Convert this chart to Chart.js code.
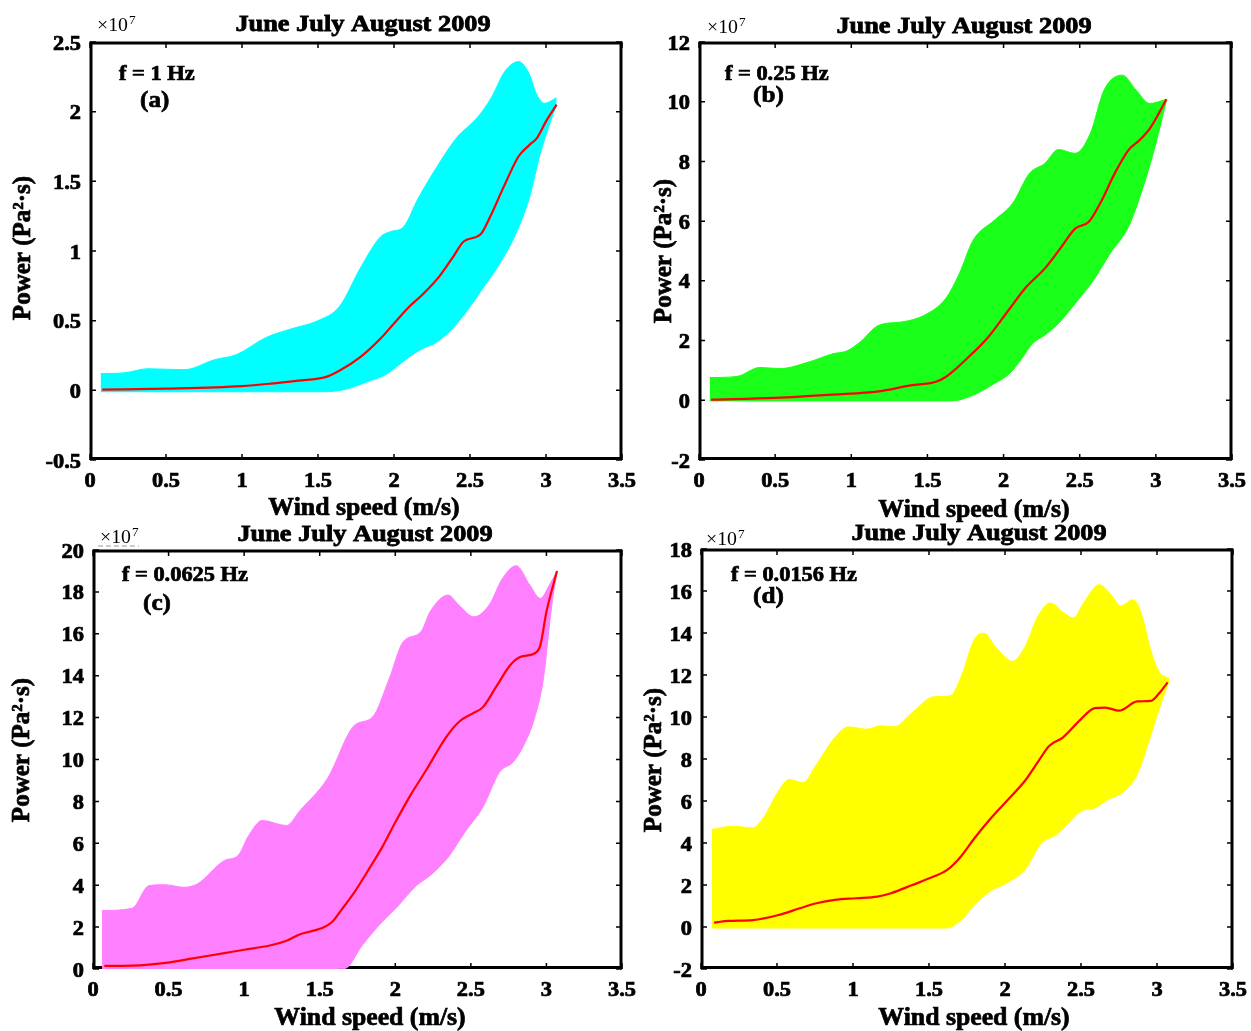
<!DOCTYPE html>
<html>
<head>
<meta charset="utf-8">
<script src="https://cdn.jsdelivr.net/npm/chart.js@4.4.1/dist/chart.umd.min.js"></script>
<style>
  body { margin: 0; background: #fff; }
  #wrap { position: relative; width: 1251px; height: 1031px; overflow: hidden; background: #fff; }
  canvas { position: absolute; }
</style>
</head>
<body>
<div id="wrap">
  <canvas id="chartA" width="660" height="525" style="left:0px;top:0px"></canvas>
  <canvas id="chartB" width="621" height="525" style="left:630px;top:0px"></canvas>
  <canvas id="chartC" width="660" height="519" style="left:0px;top:512px"></canvas>
  <canvas id="chartD" width="621" height="519" style="left:630px;top:512px"></canvas>
</div>
<script>
// values are in units of 1e7 Pa^2*s, x in m/s

// (a) f = 1 Hz
const aMeanX = [0.08, 0.5, 1.0, 1.19, 1.37, 1.55, 1.64, 1.78, 1.91, 2.0, 2.1, 2.19, 2.3, 2.39, 2.46, 2.57, 2.63, 2.73, 2.82, 2.89, 2.94, 3.0, 3.07];
const aMeanY = [0.005, 0.012, 0.03, 0.048, 0.07, 0.095, 0.14, 0.24, 0.37, 0.48, 0.6, 0.69, 0.82, 0.96, 1.07, 1.12, 1.24, 1.48, 1.68, 1.76, 1.81, 1.93, 2.05];
const aUpX = [0.07, 0.23, 0.38, 0.62, 0.82, 0.96, 1.16, 1.32, 1.5, 1.64, 1.78, 1.91, 1.98, 2.06, 2.16, 2.28, 2.41, 2.55, 2.64, 2.73, 2.82, 2.89, 2.94, 2.99, 3.07];
const aUpY = [0.12, 0.126, 0.155, 0.148, 0.22, 0.255, 0.38, 0.44, 0.5, 0.6, 0.88, 1.1, 1.14, 1.17, 1.38, 1.6, 1.81, 1.96, 2.1, 2.29, 2.36, 2.27, 2.12, 2.06, 2.1];
const aLowX = [0.07, 0.5, 1.0, 1.55, 1.69, 1.82, 1.94, 2.0, 2.1, 2.19, 2.28, 2.39, 2.48, 2.57, 2.69, 2.8, 2.89, 2.96, 3.03, 3.07];
const aLowY = [-0.01, -0.01, -0.01, -0.01, 0.01, 0.06, 0.11, 0.155, 0.24, 0.3, 0.345, 0.45, 0.57, 0.71, 0.9, 1.12, 1.38, 1.69, 1.93, 2.05];

// (b) f = 0.25 Hz
const bMeanX = [0.08, 0.5, 0.88, 1.18, 1.39, 1.55, 1.62, 1.76, 1.9, 2.03, 2.15, 2.27, 2.38, 2.47, 2.56, 2.64, 2.73, 2.82, 2.89, 2.96, 3.07];
const bMeanY = [0.02, 0.08, 0.19, 0.3, 0.5, 0.61, 0.78, 1.4, 2.12, 3.0, 3.8, 4.41, 5.14, 5.75, 5.98, 6.65, 7.6, 8.38, 8.7, 9.1, 10.08];
const bUpX = [0.07, 0.25, 0.4, 0.53, 0.72, 0.88, 0.97, 1.06, 1.18, 1.34, 1.48, 1.62, 1.71, 1.8, 1.94, 2.06, 2.17, 2.27, 2.36, 2.47, 2.57, 2.66, 2.78, 2.87, 2.96, 3.07];
const bUpY = [0.76, 0.8, 1.1, 1.06, 1.28, 1.56, 1.65, 1.96, 2.51, 2.63, 2.85, 3.41, 4.25, 5.36, 6.03, 6.6, 7.6, 7.93, 8.4, 8.27, 8.94, 10.39, 10.89, 10.39, 9.94, 10.08];
const bLowX = [0.07, 0.8, 1.66, 1.8, 1.94, 2.04, 2.12, 2.19, 2.27, 2.36, 2.47, 2.59, 2.7, 2.82, 2.91, 3.0, 3.07];
const bLowY = [-0.02, -0.02, -0.02, 0.17, 0.56, 0.9, 1.4, 1.9, 2.18, 2.57, 3.24, 4.02, 4.92, 5.81, 7.04, 8.6, 10.05];

// (c) f = 0.0625 Hz
const cMeanX = [0.075, 0.26, 0.51, 0.64, 0.87, 1.0, 1.17, 1.28, 1.37, 1.51, 1.58, 1.64, 1.73, 1.82, 1.92, 2.0, 2.1, 2.21, 2.33, 2.42, 2.51, 2.58, 2.67, 2.76, 2.83, 2.92, 2.96, 3.0, 3.07];
const cMeanY = [0.15, 0.16, 0.32, 0.48, 0.76, 0.92, 1.12, 1.35, 1.66, 1.94, 2.23, 2.79, 3.67, 4.7, 5.9, 7.0, 8.29, 9.56, 11.0, 11.79, 12.19, 12.5, 13.5, 14.5, 14.9, 15.06, 15.46, 17.05, 19.0];
const cUpX = [0.06, 0.26, 0.37, 0.48, 0.6, 0.69, 0.87, 0.96, 1.03, 1.12, 1.28, 1.37, 1.55, 1.73, 1.85, 1.96, 2.05, 2.17, 2.23, 2.35, 2.42, 2.52, 2.62, 2.71, 2.8, 2.89, 2.96, 3.02, 3.07];
const cUpY = [2.79, 2.9, 3.98, 4.02, 3.9, 4.06, 5.18, 5.42, 6.37, 7.09, 6.85, 7.57, 9.08, 11.63, 12.03, 13.86, 15.6, 16.1, 17.05, 17.85, 17.37, 16.81, 17.37, 18.65, 19.25, 18.33, 17.69, 18.33, 19.0];
const cLowX = [0.06, 1.0, 1.62, 1.67, 1.78, 1.89, 2.0, 2.14, 2.23, 2.35, 2.46, 2.58, 2.69, 2.78, 2.85, 2.92, 2.98, 3.03, 3.07];
const cLowY = [0, 0, 0, 0.03, 1.12, 2.07, 2.87, 3.98, 4.46, 5.34, 6.53, 7.73, 9.4, 9.88, 10.68, 11.95, 13.86, 17.05, 19.0];

// (d) f = 0.0156 Hz
const dMeanX = [0.086, 0.18, 0.34, 0.51, 0.65, 0.76, 0.88, 1.02, 1.16, 1.25, 1.39, 1.53, 1.62, 1.71, 1.8, 1.9, 2.01, 2.13, 2.22, 2.29, 2.38, 2.5, 2.59, 2.66, 2.75, 2.87, 2.96, 3.01, 3.07];
const dMeanY = [0.21, 0.29, 0.33, 0.57, 0.89, 1.13, 1.29, 1.37, 1.45, 1.61, 2.0, 2.4, 2.72, 3.36, 4.24, 5.12, 5.99, 6.95, 7.9, 8.62, 9.02, 9.9, 10.42, 10.45, 10.3, 10.74, 10.77, 11.09, 11.65];
const dUpX = [0.07, 0.21, 0.34, 0.41, 0.51, 0.58, 0.67, 0.76, 0.88, 0.97, 1.09, 1.18, 1.27, 1.39, 1.53, 1.64, 1.71, 1.8, 1.86, 1.94, 2.05, 2.13, 2.22, 2.3, 2.38, 2.45, 2.52, 2.62, 2.71, 2.76, 2.84, 2.89, 2.96, 3.01, 3.08];
const dUpY = [4.64, 4.8, 4.72, 5.2, 6.47, 7.03, 6.87, 7.74, 9.02, 9.53, 9.42, 9.58, 9.53, 10.21, 10.96, 11.01, 11.89, 13.72, 13.99, 13.32, 12.65, 13.32, 14.84, 15.43, 15.0, 14.72, 15.47, 16.3, 15.71, 15.28, 15.58, 15.08, 13.16, 12.2, 11.81];
const dLowX = [0.07, 1.0, 1.62, 1.71, 1.8, 1.9, 2.01, 2.13, 2.24, 2.34, 2.41, 2.5, 2.59, 2.68, 2.78, 2.87, 2.94, 3.01, 3.08];
const dLowY = [-0.05, -0.05, -0.05, 0.33, 1.05, 1.69, 2.09, 2.72, 4.0, 4.4, 4.88, 5.51, 5.67, 6.07, 6.44, 7.27, 8.7, 10.29, 11.73];

const windTicks = { min: 0, max: 3.5, step: 0.5 };
const titleText = 'June July August 2009';
const xTitle = 'Wind speed (m/s)';
const yTitle = 'Power (Pa\u00B2\u00B7s)';

const FONT = '"Liberation Serif", "Times New Roman", serif';
const STRETCH = 1.12; // the figure text is a bit wider than plain Times

function xy(xs, ys) {
    return xs.map((x, i) => ({ x: x, y: ys[i] }));
}

function fmt(v) {
    return String(Math.round(v * 100) / 100);
}

// text helper: horizontal stretch plus a thin outline to get the heavy look
function text(ctx, str, x, y, font, align, sx, heavy) {
    ctx.save();
    ctx.translate(x, y);
    ctx.scale(sx, 1);
    ctx.font = font;
    ctx.textAlign = align;
    ctx.textBaseline = 'alphabetic';
    ctx.fillText(str, 0, 0);
    if (heavy) {
        ctx.lineWidth = heavy;
        ctx.strokeStyle = '#000';
        ctx.strokeText(str, 0, 0);
    }
    ctx.restore();
}

// frame, inward ticks, tick labels and the annotation texts of one panel
function panelPlugin(p) {
    return {
        id: 'panel',
        beforeDatasetsDraw(chart) {
            const { ctx, chartArea: a, scales } = chart;
            ctx.save();
            ctx.strokeStyle = '#000';
            ctx.lineWidth = 1.5;
            ctx.beginPath();
            scales.x.ticks.forEach(t => {
                const px = scales.x.getPixelForValue(t.value);
                ctx.moveTo(px, a.bottom); ctx.lineTo(px, a.bottom - 6);
                ctx.moveTo(px, a.top); ctx.lineTo(px, a.top + 6);
            });
            scales.y.ticks.forEach(t => {
                const py = scales.y.getPixelForValue(t.value);
                ctx.moveTo(a.left, py); ctx.lineTo(a.left + 6, py);
                ctx.moveTo(a.right, py); ctx.lineTo(a.right - 6, py);
            });
            ctx.stroke();
            ctx.lineWidth = 3;
            ctx.strokeRect(a.left + 1, a.top + 1, a.right - a.left - 2, a.bottom - a.top - 2.5);
            ctx.restore();
        },
        afterDraw(chart) {
            const { ctx, chartArea: a, scales } = chart;
            const ox = p.left, oy = p.top;
            const tickFont = 'bold 20px ' + FONT;
            ctx.save();
            ctx.fillStyle = '#000';

            scales.x.ticks.forEach(t => {
                text(ctx, fmt(t.value), scales.x.getPixelForValue(t.value), a.bottom + 27, tickFont, 'center', STRETCH, 0.7);
            });
            scales.y.ticks.forEach(t => {
                text(ctx, fmt(t.value), a.left - 9, scales.y.getPixelForValue(t.value) + 7.5, tickFont, 'right', STRETCH, 0.7);
            });

            text(ctx, titleText, p.title[0] - ox, p.title[1] - oy, 'bold 23.5px ' + FONT, 'center', STRETCH, 0.8);

            text(ctx, '\u00D710', p.exp[0] - ox, p.exp[1] - oy, '18px ' + FONT, 'left', 1.1, 0);
            ctx.font = '18px ' + FONT;
            const w = ctx.measureText('\u00D710').width * 1.1;
            text(ctx, '7', p.exp[0] - ox + w + 1, p.exp[1] - oy - 7, '12px ' + FONT, 'left', 1.1, 0);
            if (p.dash) {
                ctx.strokeStyle = '#999';
                ctx.lineWidth = 1;
                ctx.setLineDash([5, 3]);
                ctx.beginPath();
                ctx.moveTo(p.exp[0] - ox - 2, p.exp[1] - oy + 3);
                ctx.lineTo(p.exp[0] - ox + w + 8, p.exp[1] - oy + 3);
                ctx.stroke();
                ctx.setLineDash([]);
            }

            text(ctx, p.freq, p.freqPos[0] - ox, p.freqPos[1] - oy, 'bold 20px ' + FONT, 'left', STRETCH, 0.7);
            text(ctx, p.letter, p.letterPos[0] - ox, p.letterPos[1] - oy, 'bold 24px ' + FONT, 'left', 1.05, 0.7);

            text(ctx, xTitle, p.xt[0] - ox, p.xt[1] - oy, 'bold 25px ' + FONT, 'center', 1.03, 0.7);
            ctx.translate(p.yt[0] - ox, p.yt[1] - oy);
            ctx.rotate(-Math.PI / 2);
            text(ctx, yTitle, 0, 8, 'bold 25px ' + FONT, 'center', 1, 0.7);
            ctx.restore();
        }
    };
}

function makePanel(p) {
    new Chart(document.getElementById(p.id), {
        type: 'line',
        data: {
            datasets: [
                {
                    label: 'mean',
                    data: xy(p.meanX, p.meanY),
                    borderColor: '#ff0000',
                    borderWidth: 2.2,
                    pointRadius: 0,
                    fill: false,
                    cubicInterpolationMode: 'monotone',
                    order: 0
                },
                {
                    label: 'upper',
                    data: xy(p.upX, p.upY),
                    borderColor: p.color,
                    backgroundColor: p.color,
                    borderWidth: 1,
                    pointRadius: 0,
                    fill: '+1',
                    cubicInterpolationMode: 'monotone',
                    order: 1
                },
                {
                    label: 'lower',
                    data: xy(p.lowX, p.lowY),
                    borderColor: p.color,
                    borderWidth: 1,
                    pointRadius: 0,
                    fill: false,
                    cubicInterpolationMode: 'monotone',
                    order: 2
                }
            ]
        },
        options: {
            responsive: false,
            animation: false,
            events: [],
            layout: { padding: { left: 0, top: p.padTop, right: p.padRight, bottom: 0 } },
            plugins: { legend: { display: false }, tooltip: { enabled: false } },
            scales: {
                x: {
                    type: 'linear',
                    min: windTicks.min,
                    max: windTicks.max,
                    grid: { display: false, drawTicks: false },
                    border: { display: false },
                    ticks: { display: false, stepSize: windTicks.step, autoSkip: false },
                    afterFit(s) { s.height = p.xHeight; s.paddingLeft = 0; s.paddingRight = 0; }
                },
                y: {
                    type: 'linear',
                    min: p.yMin,
                    max: p.yMax,
                    grid: { display: false, drawTicks: false },
                    border: { display: false },
                    ticks: { display: false, stepSize: p.yStep, autoSkip: false },
                    afterFit(s) { s.width = p.yWidth; s.paddingTop = 0; s.paddingBottom = 0; }
                }
            }
        },
        plugins: [panelPlugin(p)]
    });
}

makePanel({
    id: 'chartA', left: 0, top: 0, color: '#00ffff',
    meanX: aMeanX, meanY: aMeanY, upX: aUpX, upY: aUpY, lowX: aLowX, lowY: aLowY,
    yMin: -0.5, yMax: 2.5, yStep: 0.5,
    yWidth: 90, xHeight: 65, padTop: 42, padRight: 38,
    title: [363, 31], exp: [97, 31], freq: 'f = 1 Hz', freqPos: [119, 80],
    letter: '(a)', letterPos: [140, 107], xt: [364, 515], yt: [22, 248]
});

makePanel({
    id: 'chartB', left: 630, top: 0, color: '#1aff1a',
    meanX: bMeanX, meanY: bMeanY, upX: bUpX, upY: bUpY, lowX: bLowX, lowY: bLowY,
    yMin: -2, yMax: 12, yStep: 2,
    yWidth: 69, xHeight: 65, padTop: 42, padRight: 19,
    title: [964, 33], exp: [707, 33], freq: 'f = 0.25 Hz', freqPos: [725, 80],
    letter: '(b)', letterPos: [753, 102], xt: [974, 517], yt: [663, 251]
});

makePanel({
    id: 'chartC', left: 0, top: 512, color: '#ff80ff',
    meanX: cMeanX, meanY: cMeanY, upX: cUpX, upY: cUpY, lowX: cLowX, lowY: cLowY,
    yMin: 0, yMax: 20, yStep: 2,
    yWidth: 93, xHeight: 62, padTop: 38, padRight: 38,
    title: [365, 541], exp: [100, 543], dash: true, freq: 'f = 0.0625 Hz', freqPos: [122, 581],
    letter: '(c)', letterPos: [143, 610], xt: [370, 1025], yt: [21, 750]
});

makePanel({
    id: 'chartD', left: 630, top: 512, color: '#ffff00',
    meanX: dMeanX, meanY: dMeanY, upX: dUpX, upY: dUpY, lowX: dLowX, lowY: dLowY,
    yMin: -2, yMax: 18, yStep: 2,
    yWidth: 71, xHeight: 62, padTop: 37, padRight: 18,
    title: [979, 540], exp: [706, 545], freq: 'f = 0.0156 Hz', freqPos: [731, 581],
    letter: '(d)', letterPos: [753, 603], xt: [974, 1025], yt: [653, 760]
});
</script>
</body>
</html>
